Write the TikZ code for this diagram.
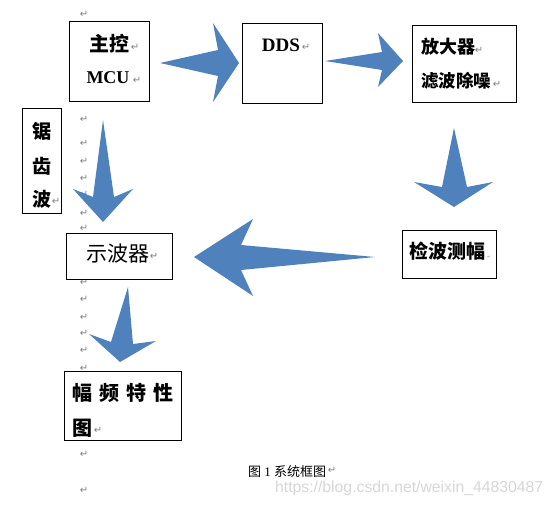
\documentclass[tikz,border=0pt]{standalone}
\usepackage{fontspec}
\setmainfont{Liberation Serif}
\newfontfamily\cjk{Noto Sans CJK SC}
\newfontfamily\symf{DejaVu Sans}
\newfontfamily\wmf{Liberation Sans}
\definecolor{arrowblue}{RGB}{79,129,189}
\definecolor{markgray}{RGB}{128,128,128}
\definecolor{wmgray}{RGB}{214,214,214}
\newcommand{\fs}[1]{\fontsize{#1bp}{#1bp}\selectfont}
\begin{document}
\begin{tikzpicture}[x=1bp,y=-1bp,
  box/.style={draw=black, line width=1bp, inner sep=0pt, anchor=north west},
  blk/.style={fill=arrowblue, draw=none},
  pmark/.style={font=\symf\fs{10}, text=markgray, inner sep=0pt},
  lbl/.style={inner sep=0pt},
  cjkb/.style={lbl, font=\cjk\bfseries\fs{#1}},
  cjkr/.style={lbl, font=\cjk\fs{#1}},
  latb/.style={lbl, font=\bfseries\fs{#1}}]
\useasboundingbox (0,0) rectangle (555,505);

% paragraph marks (drawn first, arrows lie over them)
\foreach \yy [count=\i] in {14,119,143,161,178,194,213,228,282,299,317,333,350,368,454,490}
  \node[pmark] (pm\i) at (84,\yy) {↵};
\node[pmark] (pa) at (135,47) {↵};
\node[pmark] (pb) at (137,80) {↵};
\node[pmark] (pc) at (306,47) {↵};
\node[pmark] (pd) at (479,50) {↵};
\node[pmark] (pe) at (497,84) {↵};
\node[pmark, font=\symf\fs{4}] (pf) at (489,257) {↵};
\node[pmark] (pg) at (56,201) {↵};
\node[pmark] (ph) at (154,256) {↵};
\node[pmark] (pi) at (98,430) {↵};
\node[pmark] (pj) at (332,470) {↵};

% boxes
\node[box, minimum width=80bp, minimum height=80bp] (mcu) at (69,21) {};
\node[box, minimum width=80bp, minimum height=80bp] (dds) at (242,23) {};
\node[box, minimum width=104bp, minimum height=77bp] (amp) at (412,25) {};
\node[box, minimum width=94bp, minimum height=48bp] (det) at (402,230) {};
\node[box, minimum width=39bp, minimum height=105bp] (saw) at (22,108) {};
\node[box, minimum width=106bp, minimum height=46bp] (osc) at (66,233) {};
\node[box, minimum width=117bp, minimum height=69bp] (frq) at (64,371) {};

% texts
\node[cjkb=20] (t1) at (109,44) {主控};
\node[latb=18] (t2) at (108,78) {MCU};
\node[latb=19] (t3) at (281,45) {DDS};
\node[cjkb=18, anchor=west] (t4) at (421,47) {放大器};
\node[cjkb=17.5, anchor=west] (t5) at (421,81) {滤波除噪};
\node[cjkb=19, anchor=west] (t6) at (409,251) {检波测幅};
\node[cjkb=19] (t7a) at (41.5,131) {锯};
\node[cjkb=19] (t7b) at (41.5,166) {齿};
\node[cjkb=19] (t7c) at (41.5,199) {波};
\node[cjkr=21] (t8) at (118,254) {示波器};
\node[cjkb=20, anchor=west] (t9) at (72,393) {幅\hspace{7bp}频\hspace{7bp}特\hspace{7bp}性};
\node[cjkb=20, anchor=west] (t10) at (72,428) {图};
\node[lbl, font=\fs{13}, anchor=west] (cap) at (248,472) {{\cjk 图} 1 {\cjk 系统框图}};
\node[lbl, font=\wmf\fs{15.75}, text=wmgray, anchor=west] (wm) at (275,488) {https://blog.csdn.net/weixin\_44830487};

% block arrows
\path[blk] (160,63) -- (218,50) -- (213,23) -- (239,63) -- (213,102) -- (218,76) -- cycle;
\path[blk] (325,61) -- (382,52) -- (378,33) -- (403,61) -- (378,87) -- (382,70) -- cycle;
\path[blk] (454,128) -- (467,187) -- (493,182) -- (454,207) -- (414,182) -- (442,187) -- cycle;
\path[blk] (375,257) -- (241,270) -- (253,296) -- (194,257) -- (253,219) -- (241,245) -- cycle;
\path[blk] (103,120) -- (114,197) -- (133,189) -- (103,222) -- (73,189) -- (93,197) -- cycle;
\path[blk] (128,287) -- (133,344) -- (156,341) -- (120,362) -- (89,334) -- (111,342) -- cycle;
\end{tikzpicture}
\end{document}
